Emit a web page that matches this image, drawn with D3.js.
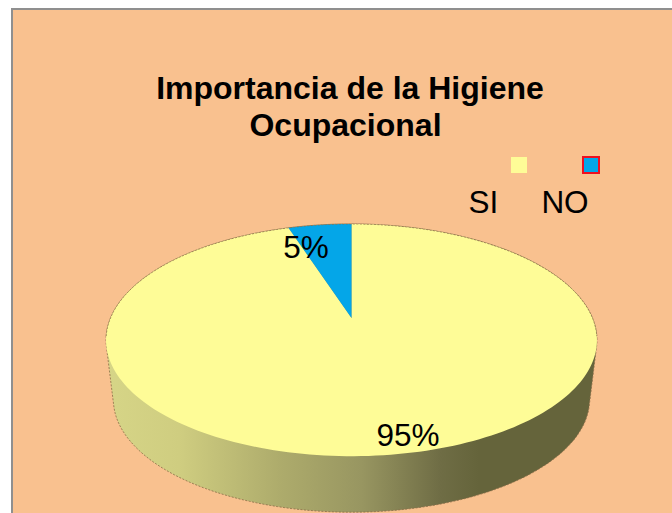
<!DOCTYPE html>
<html>
<head>
<meta charset="utf-8">
<script src="https://cdn.jsdelivr.net/npm/d3@7"></script>
<style>
html,body{margin:0;padding:0;background:#fff;overflow:hidden}
svg{display:block}
text{font-family:"Liberation Sans",Arial,sans-serif;fill:#000}
</style>
</head>
<body>
<svg id="chart" width="672" height="513"></svg>
<script>
const categories = ["SI", "NO"];
const values = [95, 5];
const titleLines = ["Importancia de la Higiene", "Ocupacional"];

const colors = d3.scaleOrdinal().domain(categories).range(["#FEFC97", "#04A6E8"]);
const legendStroke = d3.scaleOrdinal().domain(categories).range(["none", "#F01020"]);
const legendX = d3.scaleOrdinal().domain(categories).range([511, 583]);
const legendTextX = d3.scaleOrdinal().domain(categories).range([483.5, 565]);
const titleX = d3.scaleOrdinal().domain(titleLines).range([350, 345.5]);
const labelPos = { SI: [408, 446], NO: [306, 258] };

const svg = d3.select("#chart");

// Perspective projection of the unit disc: the pie's apex sits above the ellipse centre
const cx = 351.5, A = 241, B = 51.5, Y0 = 318, C = -0.19;
function project(angle, r = 1, scale = 1, shift = 0) {
  const u = r * Math.sin(angle), v = -r * Math.cos(angle), w = 1 + C * v;
  return [cx + scale * A * u / w, shift + scale * (B * v + Y0) / w];
}
const line = d3.line();
const steps = 240;
const arcPoints = (a0, a1, ...rest) =>
  d3.range(steps + 1).map(i => project(a0 + (a1 - a0) * i / steps, 1, ...rest));

// Frame
svg.append("rect").attr("x", 12).attr("y", 9).attr("width", 700).attr("height", 560)
  .attr("fill", "#F9C18F").attr("stroke", "#8f8f8f").attr("stroke-width", 2);

// Gradient for the wall
const defs = svg.append("defs");
const g = defs.append("linearGradient").attr("id", "wall")
  .attr("gradientUnits", "userSpaceOnUse")
  .attr("x1", 106).attr("x2", 597).attr("y1", 0).attr("y2", 0);
[[0, "#d6d587"], [0.15, "#cfcd80"], [0.35, "#aeac6c"], [0.52, "#989661"],
 [0.68, "#6f6d45"], [0.76, "#65643b"], [1, "#65643b"]]
  .forEach(([o, c]) => g.append("stop").attr("offset", o).attr("stop-color", c));

// Wall: convex hull of the top rim and the lower rim
const wallScale = 0.97, wallShift = 69.7;
const topRim = arcPoints(0, 2 * Math.PI);
const lowRim = arcPoints(0, 2 * Math.PI, wallScale, wallShift);
const hull = d3.polygonHull(topRim.concat(lowRim));
svg.append("path").attr("d", line(hull) + "Z").attr("fill", "url(#wall)")
  .attr("stroke", "#8a6c48").attr("stroke-width", 0.8).attr("stroke-dasharray", "2 1.5");

// Top of the pie
const pie = d3.pie().sort(null).value(d => d.value);
const arcs = pie(categories.map((c, i) => ({ cat: c, value: values[i] })));
const sliceG = svg.append("g");
arcs.forEach(a => {
  const pts = [project(0, 0)].concat(arcPoints(a.startAngle, a.endAngle));
  sliceG.append("path").attr("d", line(pts) + "Z").attr("fill", colors(a.data.cat));
});
// Dotted rim on the far half of the top surface
svg.append("path").attr("d", line(arcPoints(-Math.PI * 0.55, Math.PI * 0.55)))
  .attr("fill", "none").attr("stroke", "#8a6c48").attr("stroke-width", 0.8).attr("stroke-dasharray", "2 1.5");

// Title
svg.append("g").selectAll("text").data(titleLines).join("text")
  .attr("x", d => titleX(d)).attr("y", (d, i) => 99 + i * 36.5)
  .attr("text-anchor", "middle").attr("font-size", 32).attr("font-weight", "bold")
  .text(d => d);

// Legend
svg.append("g").selectAll("rect").data(categories).join("rect")
  .attr("x", d => legendX(d)).attr("y", 157)
  .attr("width", 16).attr("height", 16)
  .attr("fill", d => colors(d)).attr("stroke", d => legendStroke(d)).attr("stroke-width", 2);
svg.append("g").selectAll("text").data(categories).join("text")
  .attr("x", d => legendTextX(d)).attr("y", 213)
  .attr("text-anchor", "middle").attr("font-size", 31.5)
  .text(d => d);

// Data labels
const total = d3.sum(values);
svg.append("g").selectAll("text").data(arcs).join("text")
  .attr("x", d => labelPos[d.data.cat][0]).attr("y", d => labelPos[d.data.cat][1])
  .attr("text-anchor", "middle").attr("font-size", 31.5)
  .text(d => d3.format(".0%")(d.value / total));
</script>
</body>
</html>
